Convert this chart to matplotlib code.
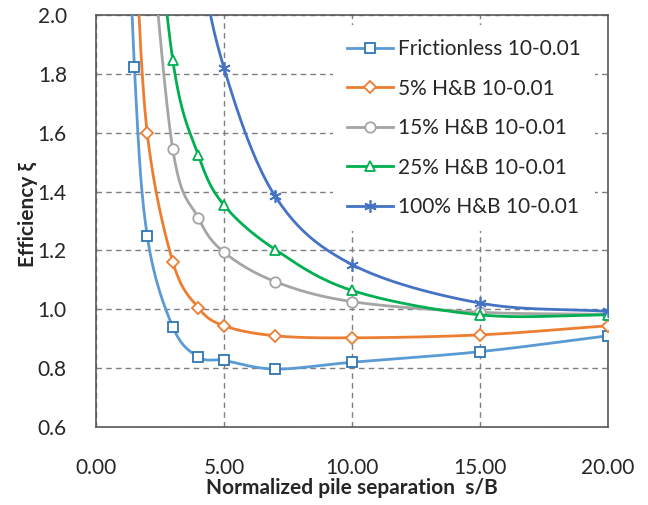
import numpy as np
import matplotlib
matplotlib.use("Agg")
import matplotlib.pyplot as plt

plt.rcParams['font.family'] = ['Lato', 'DejaVu Sans']

# ---- data (points above 2.0 are off-chart estimates) ----
x_fric = [1.0, 1.5, 2, 3, 4, 5, 7, 10, 15, 20]
y_fric = [3.0, 1.825, 1.25, 0.94, 0.838, 0.826, 0.797, 0.82, 0.856, 0.91]

x_5 = [1.5, 2, 3, 4, 5, 7, 10, 15, 20]
y_5 = [2.3, 1.60, 1.161, 1.005, 0.944, 0.91, 0.903, 0.913, 0.944]

x_15 = [2, 3, 4, 5, 7, 10, 15, 20]
y_15 = [2.4, 1.543, 1.31, 1.194, 1.094, 1.026, 0.99, 0.983]

x_25 = [2, 3, 4, 5, 7, 10, 15, 20]
y_25 = [2.7, 1.846, 1.523, 1.354, 1.203, 1.064, 0.981, 0.981]

x_100 = [3, 4, 5, 7, 10, 15, 20]
y_100 = [3.0, 2.25, 1.82, 1.384, 1.152, 1.021, 0.993]

labels = ["Frictionless 10-0.01", "5% H&B 10-0.01", "15% H&B 10-0.01",
          "25% H&B 10-0.01", "100% H&B 10-0.01"]
x_ticks = [0, 5, 10, 15, 20]
y_ticks = [0.6, 0.8, 1.0, 1.2, 1.4, 1.6, 1.8, 2.0]

series = [(x_fric, y_fric), (x_5, y_5), (x_15, y_15), (x_25, y_25), (x_100, y_100)]
line_colors = ["#5B9BD5", "#ED7D31", "#A5A5A5", "#00B050", "#4472C4"]
edge_colors = ["#2E75B6", "#ED7D31", "#A5A5A5", "#00B050", "#4472C4"]
markers = ["s", "D", "o", "^", (6, 2, 0)]
msizes = [7.5, 6.5, 7.5, 7.5, 9]

fig = plt.figure(figsize=(6.48, 5.05), dpi=100)
L, R, T, B = 96, 608, 15, 427
W, H = 648, 505
ax = fig.add_axes([L / W, 1 - B / H, (R - L) / W, (B - T) / H])

XR, YR = 20.0, 1.4
sx, sy = (R - L) / XR, (B - T) / YR


def smooth(xs, ys, n=40):
    # Catmull-Rom spline in pixel-like space (Excel style smoothing)
    P = np.column_stack([np.asarray(xs, float) * sx, np.asarray(ys, float) * sy])
    P = np.vstack([2 * P[0] - P[1], P, 2 * P[-1] - P[-2]])
    out = []
    for i in range(1, len(P) - 2):
        p0, p1, p2, p3 = P[i - 1], P[i], P[i + 1], P[i + 2]
        t = np.linspace(0, 1, n)[:, None]
        c1 = p1 + (p2 - p0) / 6.0
        c2 = p2 - (p3 - p1) / 6.0
        seg = ((1 - t) ** 3) * p1 + 3 * ((1 - t) ** 2) * t * c1 + 3 * (1 - t) * t ** 2 * c2 + t ** 3 * p2
        out.append(seg if i == 1 else seg[1:])
    C = np.vstack(out)
    return C[:, 0] / sx, C[:, 1] / sy


handles = []
for k, ((xs, ys), lc, ec, m, ms, lab) in enumerate(zip(series, line_colors, edge_colors, markers, msizes, labels)):
    cx, cy = smooth(xs, ys)
    ax.plot(cx, cy, color=lc, lw=2.0, zorder=3 + k, solid_capstyle='round')
    if m == (6, 2, 0):
        ax.plot(xs, ys, linestyle='none', marker=m, ms=ms, mec=ec, mfc='none', mew=1.2, zorder=3.5 + k)
        h, = ax.plot([], [], color=lc, lw=2.0, marker=m, ms=ms, mec=ec, mfc='none', mew=1.2)
    else:
        ax.plot(xs, ys, linestyle='none', marker=m, ms=ms, mec=ec, mfc='white', mew=1.3, zorder=3.5 + k)
        h, = ax.plot([], [], color=lc, lw=2.0, marker=m, ms=ms, mec=ec, mfc='white', mew=1.3)
    handles.append(h)

ax.set_xlim(0, 20)
ax.set_ylim(0.6, 2.0)
ax.set_xticks(x_ticks)
ax.set_xticklabels([f"{v:.2f}" for v in x_ticks])
ax.set_yticks(y_ticks)
ax.set_yticklabels([f"{v:.1f}" for v in y_ticks])
ax.tick_params(axis='both', length=0, labelsize=15, colors='#262626')
ax.tick_params(axis='x', pad=22)
ax.tick_params(axis='y', pad=21)
ax.grid(True, color='#7F7F7F', linestyle=(0, (4, 3)), linewidth=1.0)
ax.set_axisbelow(True)
for s in ax.spines.values():
    s.set_color('#595959')
    s.set_linewidth(1.2)

fig.text((L + R) / 2 / W, 1 - 488 / H, "Normalized pile separation  s/B", ha='center', va='center',
         fontsize=15, fontweight='bold', color='#262626')
fig.text(28 / W, 1 - 215 / H, "Efficiency ξ", ha='center', va='center', rotation=90,
         fontsize=15, fontweight='bold', color='#262626')

leg = ax.legend(handles, labels, loc='upper left', bbox_to_anchor=(333 / W, 1 - 25 / H),
                bbox_transform=fig.transFigure, fontsize=15, frameon=True, fancybox=False,
                edgecolor='none', facecolor='white', framealpha=1, borderaxespad=0,
                handlelength=2.2, handletextpad=0.25, labelspacing=0.94, borderpad=0.67)
for t in leg.get_texts():
    t.set_color('#262626')

fig.savefig("out.png", dpi=100)
